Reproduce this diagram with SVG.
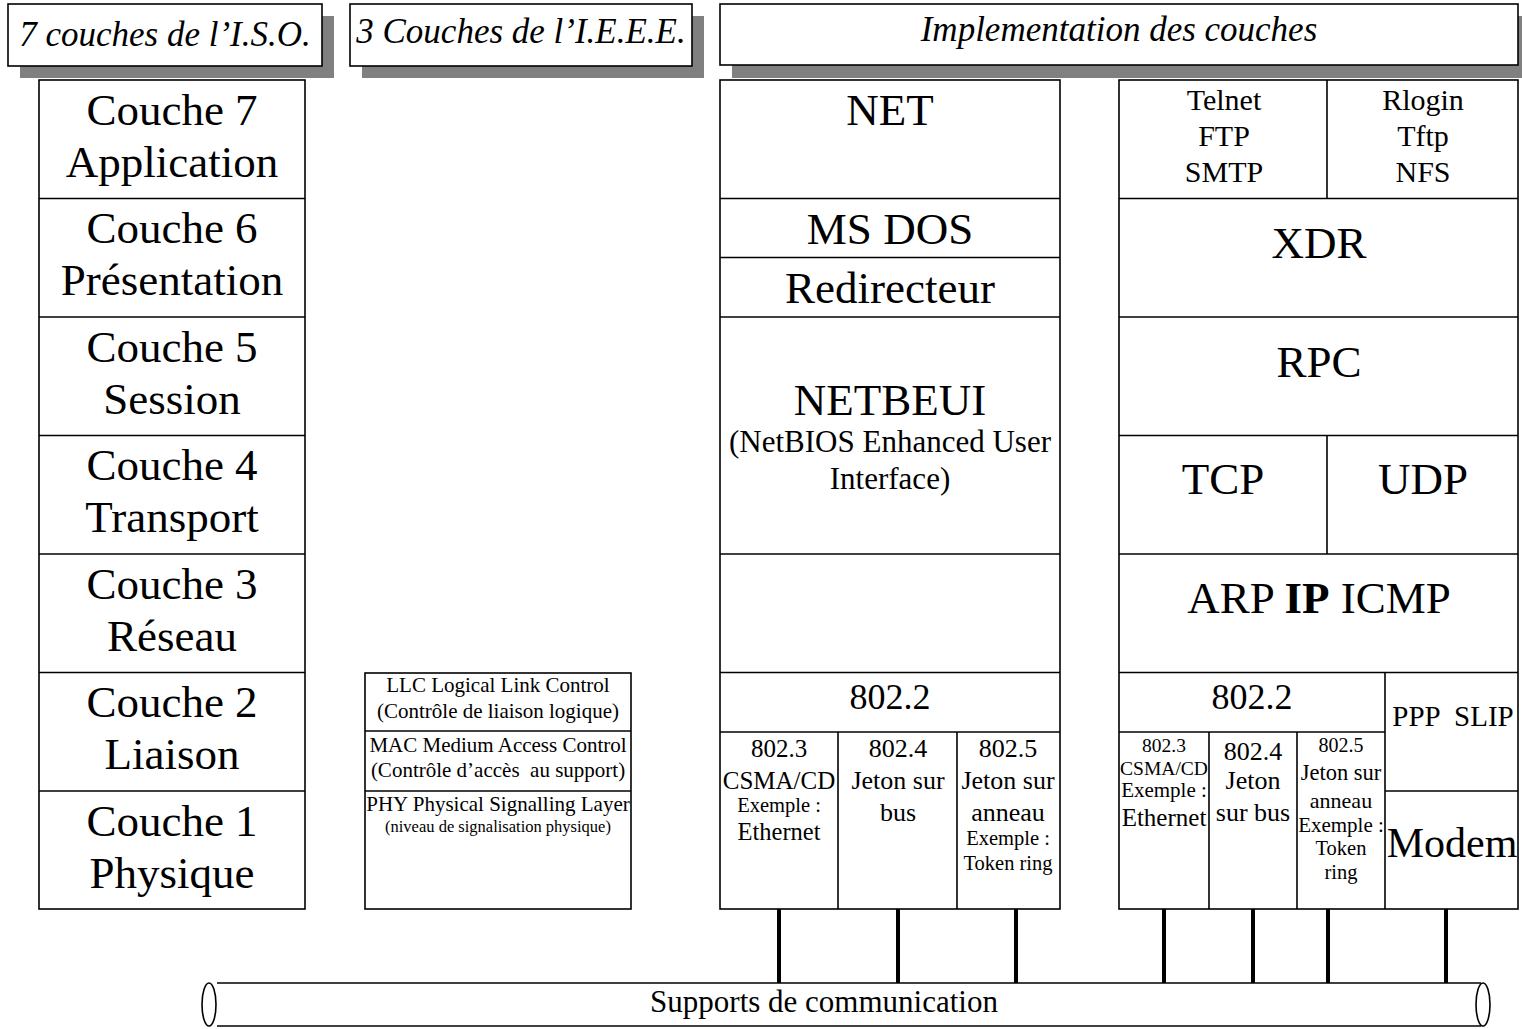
<svg xmlns="http://www.w3.org/2000/svg" width="1522" height="1029" viewBox="0 0 1522 1029">
  <style>
    text { font-family: "Liberation Serif", "Times New Roman", serif; fill: #000; text-anchor: middle; }
    .box { fill: #fff; stroke: #000; stroke-width: 1.6; }
    .div { stroke: #000; stroke-width: 1.6; fill: none; }
    .shadow { fill: #808080; }
    .hdr { font-style: italic; font-size: 35px; }
    .big { font-size: 45px; }
    .wire { stroke: #000; stroke-width: 4; }
    .pipe { stroke: #000; stroke-width: 1.6; fill: none; }
  </style>

  <!-- titles with drop shadows -->
  <g id="title-iso">
    <rect class="shadow" x="20" y="16" width="314" height="62"/>
    <rect class="box" x="8" y="4" width="314" height="62"/>
    <text class="hdr" x="165" y="46" font-size="36">7 couches de l’I.S.O.</text>
  </g>
  <g id="title-ieee">
    <rect class="shadow" x="362" y="16" width="342" height="62"/>
    <rect class="box" x="350" y="4" width="342" height="62"/>
    <text class="hdr" x="521" y="43">3 Couches de l’I.E.E.E.</text>
  </g>
  <g id="title-impl">
    <rect class="shadow" x="732" y="16" width="800" height="62"/>
    <rect class="box" x="720" y="4" width="798" height="61"/>
    <text class="hdr" x="1119" y="41">Implementation des couches</text>
  </g>

  <!-- OSI reference model -->
  <g id="osi">
    <rect class="box" x="39" y="80" width="266" height="829"/>
    <line class="div" x1="39" y1="198.5" x2="305" y2="198.5"/>
    <line class="div" x1="39" y1="317" x2="305" y2="317"/>
    <line class="div" x1="39" y1="435.5" x2="305" y2="435.5"/>
    <line class="div" x1="39" y1="554" x2="305" y2="554"/>
    <line class="div" x1="39" y1="672.5" x2="305" y2="672.5"/>
    <line class="div" x1="39" y1="791" x2="305" y2="791"/>
    <text class="big" x="172" y="125">Couche 7</text>
    <text class="big" x="172" y="177">Application</text>
    <text class="big" x="172" y="243">Couche 6</text>
    <text class="big" x="172" y="295">Présentation</text>
    <text class="big" x="172" y="362">Couche 5</text>
    <text class="big" x="172" y="414">Session</text>
    <text class="big" x="172" y="480">Couche 4</text>
    <text class="big" x="172" y="532">Transport</text>
    <text class="big" x="172" y="599">Couche 3</text>
    <text class="big" x="172" y="651">Réseau</text>
    <text class="big" x="172" y="717">Couche 2</text>
    <text class="big" x="172" y="769">Liaison</text>
    <text class="big" x="172" y="836">Couche 1</text>
    <text class="big" x="172" y="888">Physique</text>
  </g>

  <!-- IEEE sublayers -->
  <g id="ieee">
    <rect class="box" x="365" y="673" width="266" height="236"/>
    <line class="div" x1="365" y1="731" x2="631" y2="731"/>
    <line class="div" x1="365" y1="791" x2="631" y2="791"/>
    <text x="498" y="692" font-size="21">LLC Logical Link Control</text>
    <text x="498" y="718" font-size="21">(Contrôle de liaison logique)</text>
    <text x="498" y="752" font-size="21">MAC Medium Access Control</text>
    <text x="498" y="777" font-size="21" xml:space="preserve">(Contrôle d’accès  au support)</text>
    <text x="498" y="811" font-size="21">PHY Physical Signalling Layer</text>
    <text x="498" y="832" font-size="16.5">(niveau de signalisation physique)</text>
  </g>

  <!-- Microsoft stack -->
  <g id="stack-netbeui">
    <rect class="box" x="720" y="80" width="340" height="829"/>
    <line class="div" x1="720" y1="198.5" x2="1060" y2="198.5"/>
    <line class="div" x1="720" y1="257.5" x2="1060" y2="257.5"/>
    <line class="div" x1="720" y1="317" x2="1060" y2="317"/>
    <line class="div" x1="720" y1="554" x2="1060" y2="554"/>
    <line class="div" x1="720" y1="672.5" x2="1060" y2="672.5"/>
    <line class="div" x1="720" y1="732" x2="1060" y2="732"/>
    <line class="div" x1="838" y1="732" x2="838" y2="909"/>
    <line class="div" x1="957" y1="732" x2="957" y2="909"/>
    <text class="big" x="890" y="125">NET</text>
    <text class="big" x="890" y="244">MS DOS</text>
    <text class="big" x="890" y="303">Redirecteur</text>
    <text class="big" x="890" y="415">NETBEUI</text>
    <text x="890" y="452" font-size="31">(NetBIOS Enhanced User</text>
    <text x="890" y="489" font-size="31">Interface)</text>
    <text x="890" y="709" font-size="36">802.2</text>
    <text x="779" y="757" font-size="25">802.3</text>
    <text x="779" y="789" font-size="25">CSMA/CD</text>
    <text x="779" y="812" font-size="20.5">Exemple :</text>
    <text x="779" y="840" font-size="24.5">Ethernet</text>
    <text x="898" y="757" font-size="26">802.4</text>
    <text x="898" y="789" font-size="26">Jeton sur</text>
    <text x="898" y="821" font-size="26">bus</text>
    <text x="1008" y="757" font-size="26">802.5</text>
    <text x="1008" y="789" font-size="26">Jeton sur</text>
    <text x="1008" y="821" font-size="26">anneau</text>
    <text x="1008" y="845" font-size="20.5">Exemple :</text>
    <text x="1008" y="870" font-size="20.5">Token ring</text>
  </g>

  <!-- TCP/IP stack -->
  <g id="stack-tcpip">
    <rect class="box" x="1119" y="80" width="399" height="829"/>
    <line class="div" x1="1327" y1="80" x2="1327" y2="198.5"/>
    <line class="div" x1="1119" y1="198.5" x2="1518" y2="198.5"/>
    <line class="div" x1="1119" y1="317" x2="1518" y2="317"/>
    <line class="div" x1="1119" y1="435.5" x2="1518" y2="435.5"/>
    <line class="div" x1="1327" y1="435.5" x2="1327" y2="554"/>
    <line class="div" x1="1119" y1="554" x2="1518" y2="554"/>
    <line class="div" x1="1119" y1="672.5" x2="1518" y2="672.5"/>
    <line class="div" x1="1119" y1="732" x2="1385" y2="732"/>
    <line class="div" x1="1385" y1="672.5" x2="1385" y2="909"/>
    <line class="div" x1="1385" y1="791" x2="1518" y2="791"/>
    <line class="div" x1="1209" y1="732" x2="1209" y2="909"/>
    <line class="div" x1="1297" y1="732" x2="1297" y2="909"/>
    <text x="1224" y="110" font-size="30">Telnet</text>
    <text x="1224" y="146" font-size="30">FTP</text>
    <text x="1224" y="182" font-size="30">SMTP</text>
    <text x="1423" y="110" font-size="30">Rlogin</text>
    <text x="1423" y="146" font-size="30">Tftp</text>
    <text x="1423" y="182" font-size="30">NFS</text>
    <text class="big" x="1319" y="258">XDR</text>
    <text class="big" x="1319" y="377">RPC</text>
    <text class="big" x="1223" y="494">TCP</text>
    <text class="big" x="1423" y="494">UDP</text>
    <text class="big" x="1319" y="613">ARP <tspan font-weight="bold">IP</tspan> ICMP</text>
    <text x="1252" y="709" font-size="36">802.2</text>
    <text x="1453" y="726" font-size="29" xml:space="preserve">PPP  SLIP</text>
    <text x="1452" y="857" font-size="42">Modem</text>
    <text x="1164" y="752" font-size="19.5">802.3</text>
    <text x="1164" y="775" font-size="19.5">CSMA/CD</text>
    <text x="1164" y="797" font-size="21">Exemple :</text>
    <text x="1164" y="826" font-size="25">Ethernet</text>
    <text x="1253" y="760" font-size="26">802.4</text>
    <text x="1253" y="789" font-size="26">Jeton</text>
    <text x="1253" y="821" font-size="26">sur bus</text>
    <text x="1341" y="752" font-size="20">802.5</text>
    <text x="1341" y="780" font-size="22.5">Jeton sur</text>
    <text x="1341" y="808" font-size="22">anneau</text>
    <text x="1341" y="832" font-size="21">Exemple :</text>
    <text x="1341" y="855" font-size="20.5">Token</text>
    <text x="1341" y="879" font-size="20.5">ring</text>
  </g>

  <!-- shared transmission medium -->
  <g id="medium">
    <line class="pipe" x1="217" y1="983" x2="1481" y2="983"/>
    <line class="pipe" x1="217" y1="1026" x2="1481" y2="1026"/>
    <ellipse class="pipe" cx="209" cy="1004.5" rx="7" ry="21.5"/>
    <ellipse class="pipe" cx="1483" cy="1004.5" rx="7" ry="21.5" fill="#fff"/>
    <text x="824" y="1012" font-size="31">Supports de communication</text>
  </g>

  <!-- attachments to the medium -->
  <g id="connectors">
    <line class="wire" x1="779" y1="909" x2="779" y2="983"/>
    <line class="wire" x1="898" y1="909" x2="898" y2="983"/>
    <line class="wire" x1="1016" y1="909" x2="1016" y2="983"/>
    <line class="wire" x1="1164" y1="909" x2="1164" y2="983"/>
    <line class="wire" x1="1253" y1="909" x2="1253" y2="983"/>
    <line class="wire" x1="1328" y1="909" x2="1328" y2="983"/>
    <line class="wire" x1="1446" y1="909" x2="1446" y2="983"/>
  </g>
</svg>
